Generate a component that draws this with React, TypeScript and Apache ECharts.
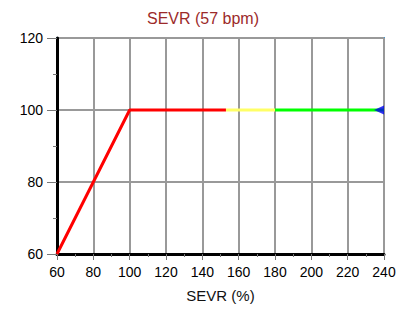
import React, { useEffect, useRef } from "react";
import * as echarts from "echarts";

const titleText = "SEVR (57 bpm)";
const xAxisName = "SEVR (%)";
const xTicks = { min: 60, max: 240, interval: 20 };
const yTicks = { min: 60, max: 120, interval: 20 };
const redSegment: [number, number][] = [[60, 60], [100, 100], [153, 100]];
const yellowSegment: [number, number][] = [[153, 100], [180, 100]];
const greenSegment: [number, number][] = [[180, 100], [240, 100]];
const markerPoint: [number, number][] = [[240, 100]];

const FONT = "'Liberation Sans', Arial, sans-serif";

export default function App() {
  const ref = useRef<HTMLDivElement>(null);
  useEffect(() => {
    if (!ref.current) return;
    const chart = echarts.init(ref.current, undefined, { renderer: "svg" });
    const lineSeries = (data: [number, number][], color: string) => ({
      type: "line",
      data,
      showSymbol: false,
      symbol: "none",
      lineStyle: { color, width: 3 },
      z: 3,
      clip: false,
    });
    chart.setOption({
      animation: false,
      backgroundColor: "#ffffff",
      title: {
        text: titleText,
        left: "center",
        top: 5,
        textStyle: { color: "#9c2a2a", fontSize: 16, fontWeight: "normal", fontFamily: FONT },
      },
      grid: {
        left: 57,
        right: 22,
        top: 38,
        bottom: 55,
        show: true,
        borderColor: "#3a9ad9",
        borderWidth: 2,
        backgroundColor: "transparent",
      },
      xAxis: {
        type: "value",
        min: xTicks.min,
        max: xTicks.max,
        interval: xTicks.interval,
        name: xAxisName,
        nameLocation: "middle",
        nameGap: 34,
        nameTextStyle: { fontSize: 15, color: "#111", fontFamily: FONT },
        axisLine: { show: true, lineStyle: { color: "#000", width: 3 } },
        axisTick: { show: true, length: 6, lineStyle: { color: "#777", width: 1 } },
        minorTick: { show: true, splitNumber: 2, length: 3, lineStyle: { color: "#777", width: 1 } },
        splitLine: { show: true, lineStyle: { color: "#999", width: 2 } },
        axisLabel: { margin: 11, fontSize: 14, color: "#000", fontFamily: FONT },
      },
      yAxis: {
        type: "value",
        min: yTicks.min,
        max: yTicks.max,
        interval: yTicks.interval,
        axisLine: { show: true, lineStyle: { color: "#000", width: 3 } },
        axisTick: { show: true, length: 10, lineStyle: { color: "#777", width: 1 } },
        minorTick: { show: true, splitNumber: 2, length: 4, lineStyle: { color: "#777", width: 1 } },
        splitLine: { show: true, lineStyle: { color: "#999", width: 2 } },
        axisLabel: { margin: 14, fontSize: 14, color: "#000", fontFamily: FONT },
      },
      series: [
        lineSeries(redSegment, "#ff0000"),
        lineSeries(yellowSegment, "#ffff66"),
        lineSeries(greenSegment, "#00ff00"),
        {
          type: "scatter",
          data: markerPoint,
          symbol: "path://M0,5 L10,0 L10,10 Z",
          symbolSize: [10, 9],
          symbolOffset: [-5, 0],
          itemStyle: { color: "#0000ee" },
          z: 4,
        },
      ],
    });
    return () => chart.dispose();
  }, []);
  return (
    <div
      ref={ref}
      style={{ position: "fixed", left: 0, top: 0, width: 406, height: 309 }}
    />
  );
}
